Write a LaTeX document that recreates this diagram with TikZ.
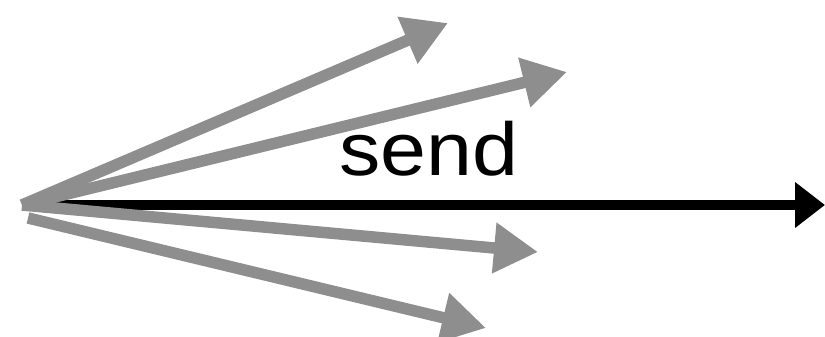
\documentclass[tikz,border=0pt]{standalone}
\usepackage{fontspec}
\setmainfont{Liberation Sans}
\usetikzlibrary{arrows.meta}
\definecolor{arrowgray}{RGB}{142,142,142}
\tikzset{
  grayarrow/.style={draw=arrowgray, line width=11.5pt, -{Triangle[length=44pt,width=48pt]}},
  blackarrow/.style={draw=black, line width=10.5pt, -{Triangle[length=30pt,width=44pt]}},
  lbl/.style={font=\fontsize{75}{90}\selectfont, inner sep=0pt, anchor=base, xscale=1.1}
}
\begin{document}
\begin{tikzpicture}[x=1pt,y=-1pt]
\useasboundingbox (0,0) rectangle (825,337);
\coordinate (o) at (22,205);
\coordinate (o2) at (28,218);
\coordinate (tb) at (825,205);
\coordinate (t1) at (448,23);
\coordinate (t2) at (567,72);
\coordinate (t3) at (538,252);
\coordinate (t4) at (486,328);
\draw[blackarrow] (o) -- (tb);
\draw[grayarrow] (o) -- (t1);
\draw[grayarrow] (o) -- (t2);
\draw[grayarrow] (o) -- (t3);
\draw[grayarrow] (o2) -- (t4);
\node[lbl] (send) at (428.5,175) {send};
\end{tikzpicture}
\end{document}
